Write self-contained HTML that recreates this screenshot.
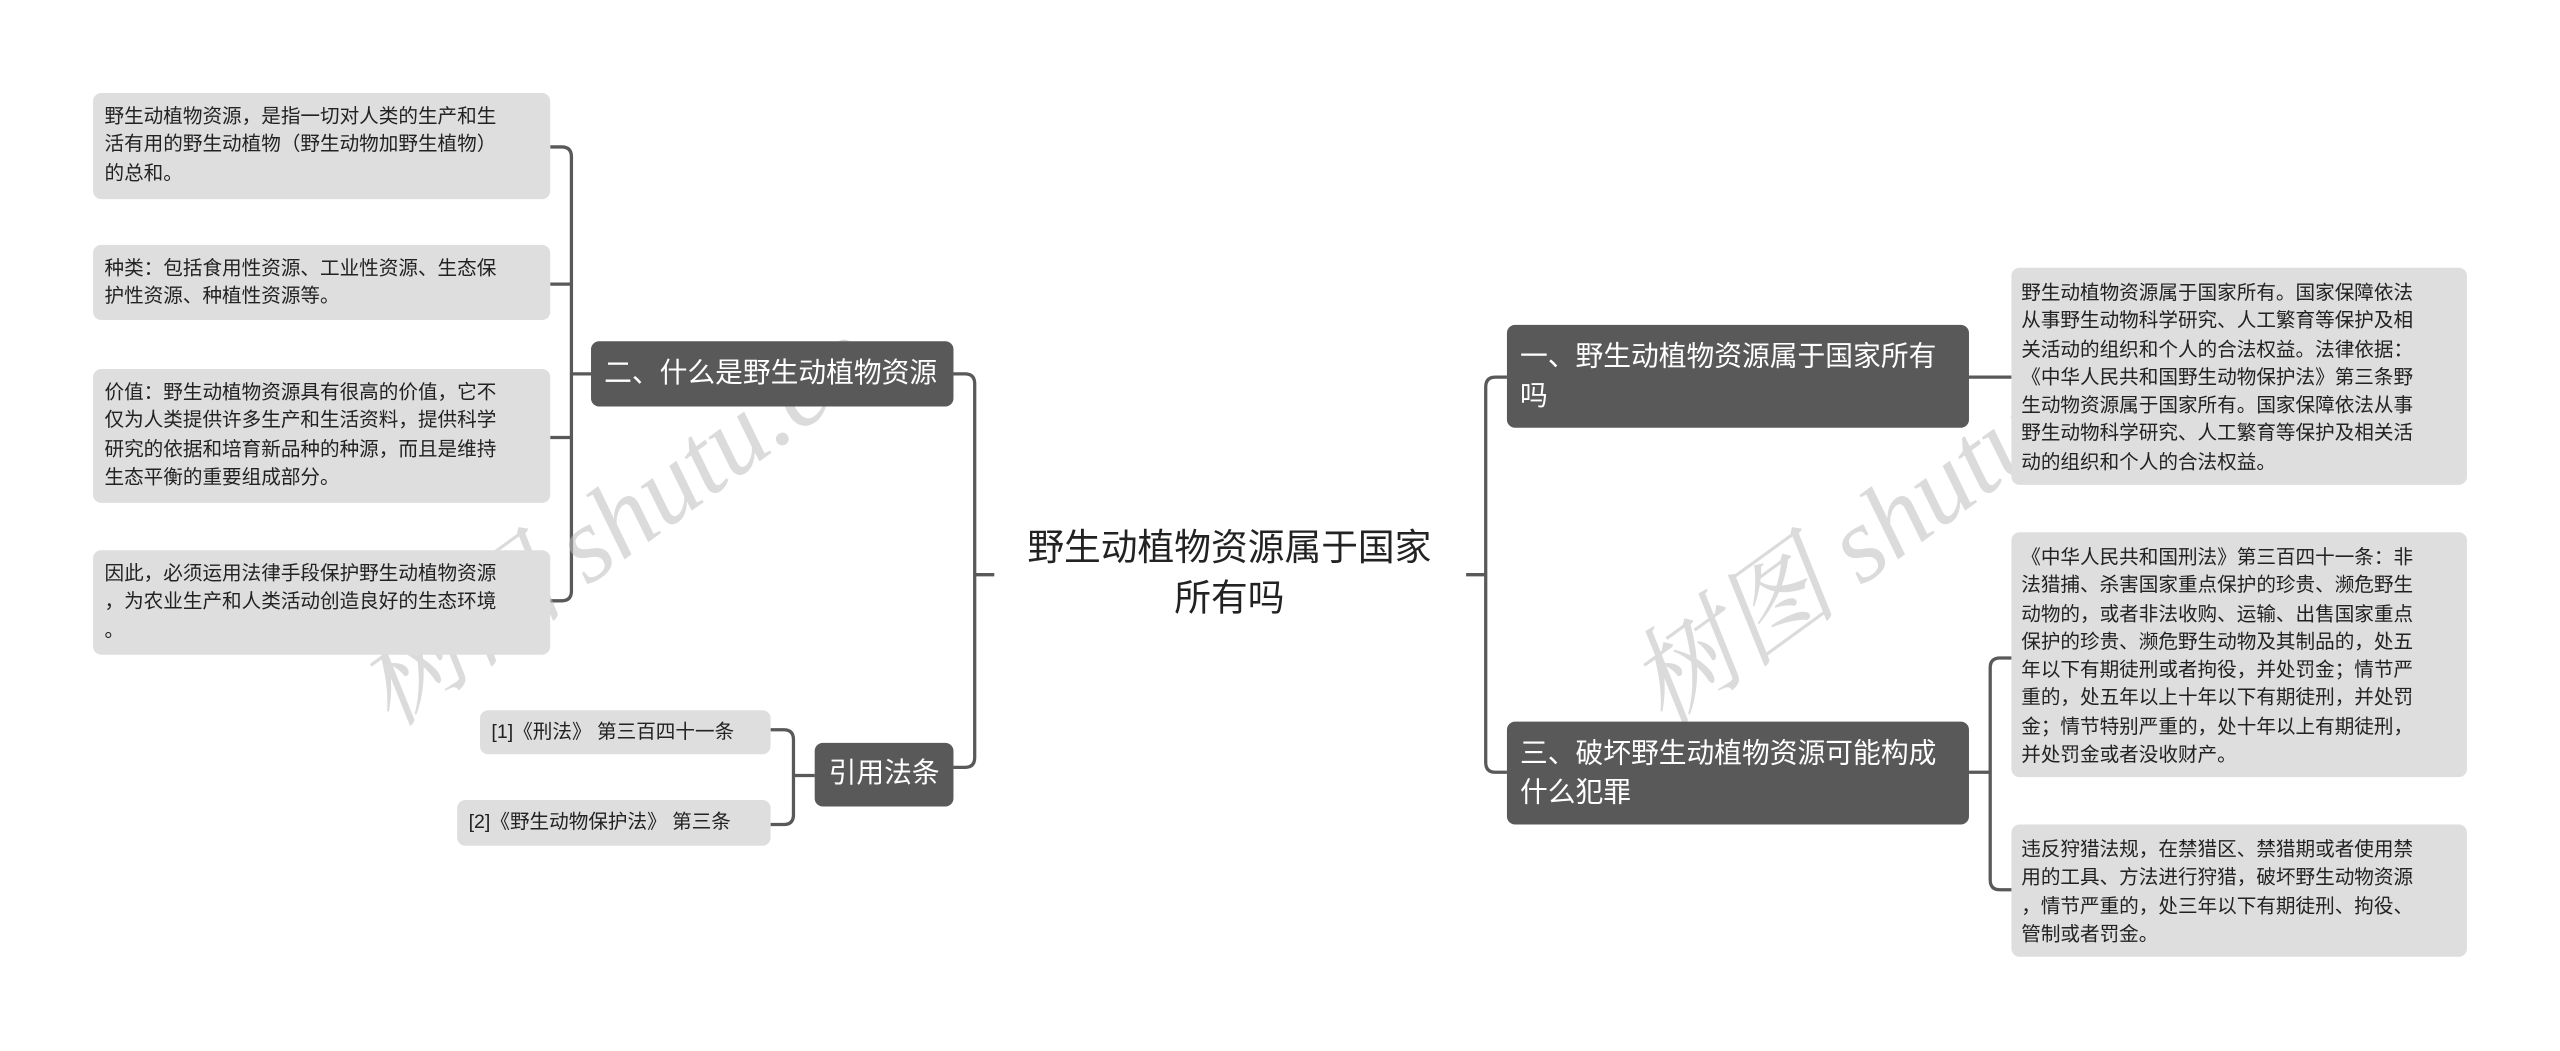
<!DOCTYPE html>
<html><head><meta charset="utf-8"><style>
html,body{margin:0;padding:0;background:#fff;overflow:hidden;}
body{width:2560px;height:1051px;position:relative;}
#w{position:absolute;left:0;top:0;width:1568px;height:644px;transform:scale(1.632653);transform-origin:0 0;font-family:"Liberation Sans","Noto Sans CJK SC",sans-serif;}
.b{position:absolute;background:#dedede;border-radius:5px;color:#222;font-size:12px;line-height:17.3px;padding:6px 7px;box-sizing:border-box;white-space:nowrap;}
.d{position:absolute;background:#595959;border-radius:5px;color:#fff;font-size:17px;line-height:24px;padding:8px 8px;box-sizing:border-box;white-space:nowrap;}
.wm{position:absolute;font-family:"Liberation Serif","Noto Serif CJK SC",serif;font-style:italic;font-size:66px;color:rgba(190,190,190,0.55);white-space:nowrap;transform-origin:0 0;}
</style></head><body><div id="w">
<svg width="1568" height="644" style="position:absolute;left:0;top:0" fill="none" stroke="#595959" stroke-width="2">
<path d="M597,352 H609"/>
<path d="M584,229 H591 Q597,229 597,235 V464 Q597,470 591,470 H584"/>
<path d="M362,229 H350"/>
<path d="M337,90 H344 Q350,90 350,96 V362 Q350,368 344,368 H337"/>
<path d="M337,174 H350 M337,268 H350"/>
<path d="M499,475 H486"/>
<path d="M472,447 H480 Q486,447 486,453 V499 Q486,505 480,505 H472"/>
<path d="M898,352 H910"/>
<path d="M923,231 H916 Q910,231 910,237 V467 Q910,473 916,473 H923"/>
<path d="M1206,231 H1232"/>
<path d="M1206,473 H1219"/>
<path d="M1232,403 H1225 Q1219,403 1219,409 V539 Q1219,545 1225,545 H1232"/>
</svg>
<div class="wm" style="left:195px;top:385px;transform:rotate(-36deg);">树图 shutu.cn</div>
<div class="wm" style="left:975px;top:385px;transform:rotate(-36deg);">树图 shutu.cn</div>

<div style="position:absolute;left:600px;top:320px;width:306px;text-align:center;font-size:22.5px;line-height:31px;color:#222;">野生动植物资源属于国家<br>所有吗</div>

<div class="d" style="left:362px;top:209px;width:222px;height:40px;">二、什么是野生动植物资源</div>
<div class="d" style="left:499px;top:455px;width:85px;height:39px;text-align:center;padding:7px 0;">引用法条</div>
<div class="d" style="left:923px;top:199px;width:283px;height:63px;">一、野生动植物资源属于国家所有<br>吗</div>
<div class="d" style="left:923px;top:442px;width:283px;height:63px;">三、破坏野生动植物资源可能构成<br>什么犯罪</div>

<div class="b" style="left:57px;top:57px;width:280px;height:65px;">野生动植物资源，是指一切对人类的生产和生<br>活有用的野生动植物（野生动物加野生植物）<br>的总和。</div>
<div class="b" style="left:57px;top:150px;width:280px;height:46px;">种类：包括食用性资源、工业性资源、生态保<br>护性资源、种植性资源等。</div>
<div class="b" style="left:57px;top:226px;width:280px;height:82px;">价值：野生动植物资源具有很高的价值，它不<br>仅为人类提供许多生产和生活资料，提供科学<br>研究的依据和培育新品种的种源，而且是维持<br>生态平衡的重要组成部分。</div>
<div class="b" style="left:57px;top:337px;width:280px;height:64px;">因此，必须运用法律手段保护野生动植物资源<br>，为农业生产和人类活动创造良好的生态环境<br>。</div>

<div class="b" style="left:294px;top:435px;width:178px;height:27px;padding:5px 7px;">[1]《刑法》 第三百四十一条</div>
<div class="b" style="left:280px;top:490px;width:192px;height:28px;padding:5px 7px;">[2]《野生动物保护法》 第三条</div>

<div class="b" style="left:1232px;top:164px;width:279px;height:133px;padding:7px 6px;">野生动植物资源属于国家所有。国家保障依法<br>从事野生动物科学研究、人工繁育等保护及相<br>关活动的组织和个人的合法权益。法律依据：<br>《中华人民共和国野生动物保护法》第三条野<br>生动物资源属于国家所有。国家保障依法从事<br>野生动物科学研究、人工繁育等保护及相关活<br>动的组织和个人的合法权益。</div>
<div class="b" style="left:1232px;top:326px;width:279px;height:150px;padding:7px 6px;">《中华人民共和国刑法》第三百四十一条：非<br>法猎捕、杀害国家重点保护的珍贵、濒危野生<br>动物的，或者非法收购、运输、出售国家重点<br>保护的珍贵、濒危野生动物及其制品的，处五<br>年以下有期徒刑或者拘役，并处罚金；情节严<br>重的，处五年以上十年以下有期徒刑，并处罚<br>金；情节特别严重的，处十年以上有期徒刑，<br>并处罚金或者没收财产。</div>
<div class="b" style="left:1232px;top:505px;width:279px;height:81px;padding:7px 6px;">违反狩猎法规，在禁猎区、禁猎期或者使用禁<br>用的工具、方法进行狩猎，破坏野生动物资源<br>，情节严重的，处三年以下有期徒刑、拘役、<br>管制或者罚金。</div>
</div></body></html>
